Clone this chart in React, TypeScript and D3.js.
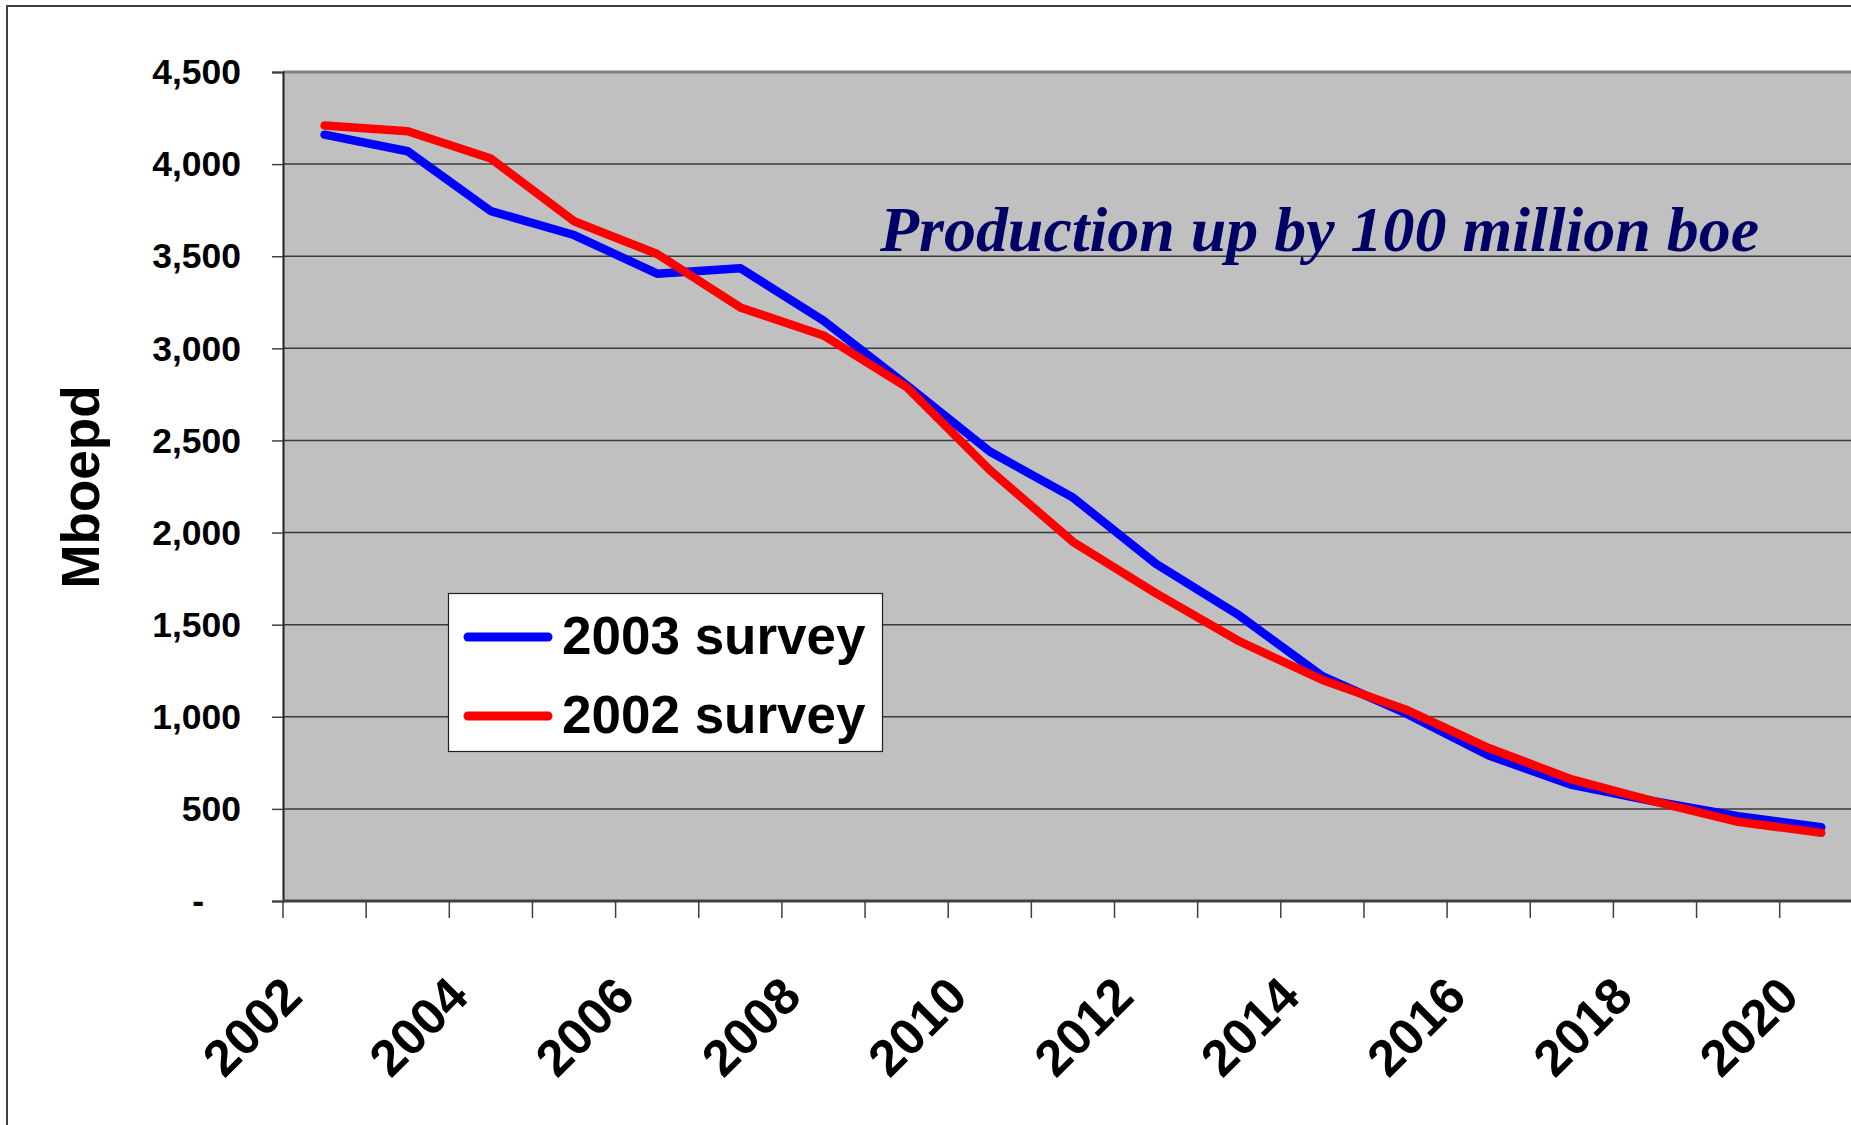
import { useEffect, useRef } from "react";
import * as d3 from "d3";

// production forecast, Mboepd
const years = [
  2002, 2003, 2004, 2005, 2006, 2007, 2008, 2009, 2010, 2011, 2012, 2013,
  2014, 2015, 2016, 2017, 2018, 2019, 2020,
];
const survey2003 = [
  4160, 4070, 3745, 3615, 3405, 3435, 3150, 2800, 2440, 2190, 1830, 1550,
  1220, 1020, 790, 630, 540, 460, 400,
];
const survey2002 = [
  4210, 4178, 4030, 3690, 3512, 3222, 3070, 2790, 2340, 1950, 1670, 1410,
  1200, 1040, 830, 660, 540, 430, 370,
];
const yTicks = [0, 500, 1000, 1500, 2000, 2500, 3000, 3500, 4000, 4500];
const xLabelYears = [2002, 2004, 2006, 2008, 2010, 2012, 2014, 2016, 2018, 2020];

const series = [
  { name: "2003 survey", values: survey2003, color: "#0000ff" },
  { name: "2002 survey", values: survey2002, color: "#ff0000" },
];

const App = () => {
  const svgRef = useRef<SVGSVGElement | null>(null);

  useEffect(() => {
    const width = 1851;
    const height = 1125;
    const left = 283;
    const top = 72;
    const bottom = 901;
    const band = 83.15;
    const right = left + band * years.length;

    const svg = d3.select(svgRef.current);
    svg.selectAll("*").remove();
    svg.attr("width", width).attr("height", height);

    // outer chart frame (cut off at right/bottom)
    svg
      .append("rect")
      .attr("x", 7)
      .attr("y", 6)
      .attr("width", 2000)
      .attr("height", 1400)
      .attr("fill", "white")
      .attr("stroke", "#404040")
      .attr("stroke-width", 2);

    const x = d3
      .scaleBand<number>()
      .domain(years)
      .range([left, right])
      .padding(0);

    const y = d3.scaleLinear().domain([0, 4500]).range([bottom, top]);

    // plot area
    svg
      .append("rect")
      .attr("x", left)
      .attr("y", top)
      .attr("width", right - left)
      .attr("height", bottom - top)
      .attr("fill", "#c0c0c0");

    svg
      .append("line")
      .attr("x1", left)
      .attr("x2", right)
      .attr("y1", top)
      .attr("y2", top)
      .attr("stroke", "#808080")
      .attr("stroke-width", 3);

    // gridlines
    svg
      .append("g")
      .selectAll("line")
      .data(yTicks.filter((d) => d > 0 && d < 4500))
      .enter()
      .append("line")
      .attr("x1", left)
      .attr("x2", right)
      .attr("y1", (d) => y(d))
      .attr("y2", (d) => y(d))
      .attr("stroke", "#3a3a3a")
      .attr("stroke-width", 1.5);

    // y axis
    const yAxis = svg
      .append("g")
      .attr("transform", `translate(${left},0)`)
      .call(
        d3
          .axisLeft(y)
          .tickValues(yTicks)
          .tickSize(11)
          .tickPadding(31)
          .tickFormat((d) => (d === 0 ? "-" : d3.format(",")(d as number)))
      );
    yAxis.select(".domain").attr("stroke", "#202020").attr("stroke-width", 2);
    yAxis.selectAll(".tick line").attr("stroke", "#404040").attr("stroke-width", 1.5);
    yAxis
      .selectAll(".tick text")
      .attr("fill", "black")
      .attr("dy", "0.33em")
      .style("font-family", "Liberation Sans, Arial, sans-serif")
      .style("font-weight", "bold")
      .style("font-size", "35.5px");
    yAxis
      .selectAll(".tick text")
      .filter((d) => d === 0)
      .attr("x", -79);

    // x axis
    const xAxis = svg
      .append("g")
      .attr("transform", `translate(0,${bottom})`);
    xAxis
      .append("line")
      .attr("x1", left)
      .attr("x2", right)
      .attr("stroke", "#404040")
      .attr("stroke-width", 3);
    xAxis
      .selectAll(".xtick")
      .data(d3.range(years.length + 1))
      .enter()
      .append("line")
      .attr("class", "xtick")
      .attr("x1", (i) => left + i * x.bandwidth())
      .attr("x2", (i) => left + i * x.bandwidth())
      .attr("y1", 0)
      .attr("y2", 17)
      .attr("stroke", "#404040")
      .attr("stroke-width", 1.5);
    xAxis
      .selectAll(".xlabel")
      .data(xLabelYears)
      .enter()
      .append("text")
      .attr("class", "xlabel")
      .attr(
        "transform",
        (d) => `translate(${(x(d) as number) + x.bandwidth() / 2 - 20},98) rotate(-45)`
      )
      .attr("text-anchor", "end")
      .style("font-family", "Liberation Sans, Arial, sans-serif")
      .style("font-weight", "bold")
      .style("font-size", "51px")
      .text((d) => d);

    // y axis title
    svg
      .append("text")
      .attr("transform", "translate(99,487) rotate(-90)")
      .attr("text-anchor", "middle")
      .style("font-family", "Liberation Sans, Arial, sans-serif")
      .style("font-weight", "bold")
      .style("font-size", "53px")
      .text("Mboepd");

    // series lines
    const line = d3
      .line<number>()
      .x((_, i) => (x(years[i]) as number) + x.bandwidth() / 2)
      .y((d) => y(d));

    svg
      .append("g")
      .selectAll("path")
      .data(series)
      .enter()
      .append("path")
      .attr("d", (s) => line(s.values))
      .attr("fill", "none")
      .attr("stroke", (s) => s.color)
      .attr("stroke-width", 8.5)
      .attr("stroke-linejoin", "round")
      .attr("stroke-linecap", "round");

    // annotation
    svg
      .append("text")
      .attr("x", 880)
      .attr("y", 251)
      .attr("textLength", 879)
      .attr("lengthAdjust", "spacingAndGlyphs")
      .attr("fill", "#000066")
      .style("font-family", "Liberation Serif, Times New Roman, serif")
      .style("font-weight", "bold")
      .style("font-style", "italic")
      .style("font-size", "64px")
      .text("Production up by 100 million boe");

    // legend
    const legend = svg.append("g");
    legend
      .append("rect")
      .attr("x", 448.5)
      .attr("y", 593.5)
      .attr("width", 434)
      .attr("height", 158)
      .attr("fill", "white")
      .attr("stroke", "#202020")
      .attr("stroke-width", 1.2);

    const items = legend
      .selectAll(".item")
      .data(series)
      .enter()
      .append("g")
      .attr("class", "item")
      .attr("transform", (_, i) => `translate(0,${637 + i * 79})`);
    items
      .append("line")
      .attr("x1", 468)
      .attr("x2", 548)
      .attr("stroke", (s) => s.color)
      .attr("stroke-width", 9)
      .attr("stroke-linecap", "round");
    items
      .append("text")
      .attr("x", 562)
      .attr("y", 17)
      .style("font-family", "Liberation Sans, Arial, sans-serif")
      .style("font-weight", "bold")
      .style("font-size", "53px")
      .text((s) => s.name);
  }, []);

  return (
    <svg
      ref={svgRef}
      style={{ position: "absolute", left: 0, top: 0, display: "block" }}
    ></svg>
  );
};

export default App;
